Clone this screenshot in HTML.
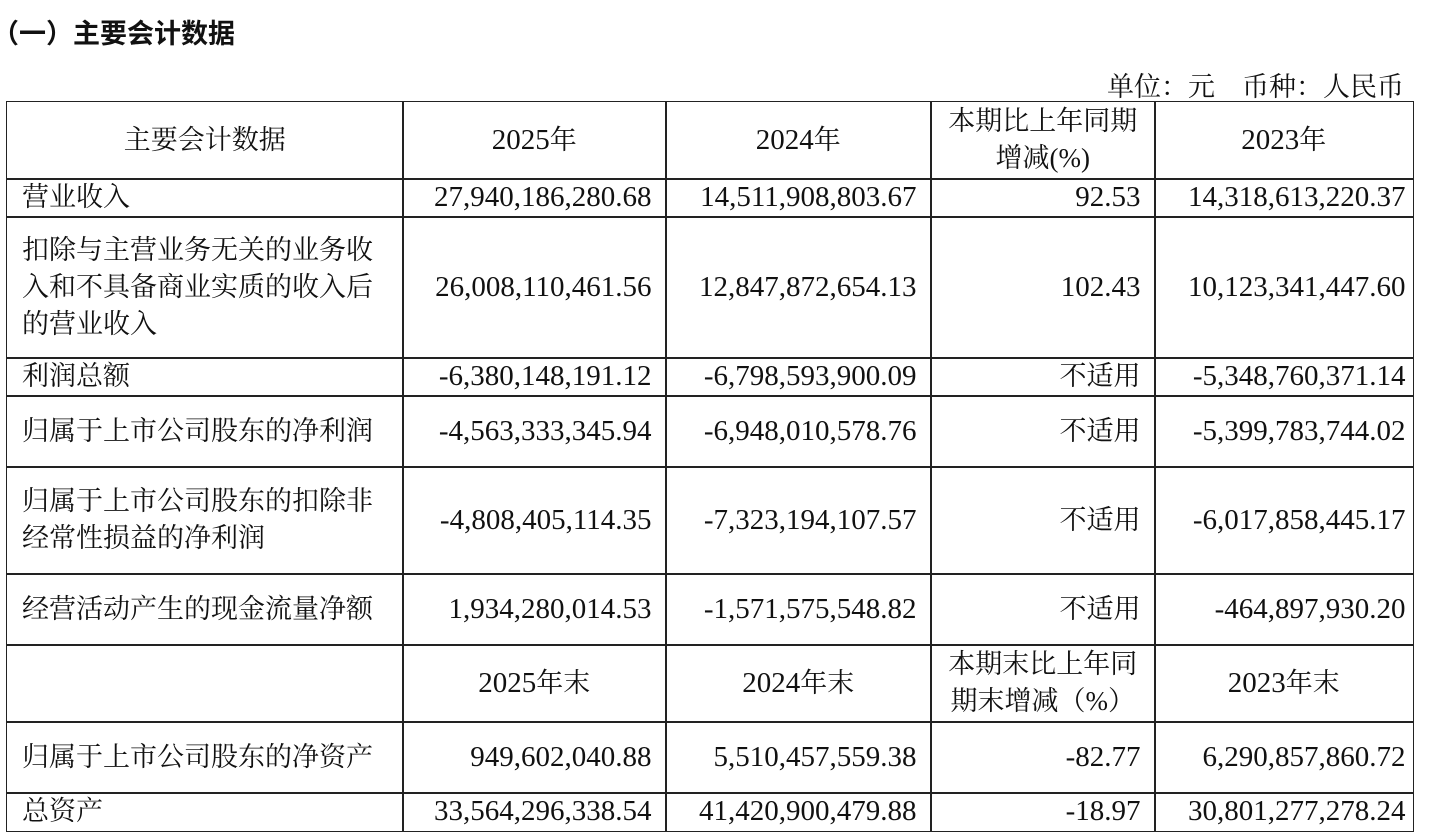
<!DOCTYPE html>
<html><head><meta charset="utf-8"><style>
body{margin:0;width:1430px;height:840px;background:#fff;position:relative;overflow:hidden;font-family:"Liberation Serif","Noto Serif CJK SC",serif;color:#111;}
.c{position:absolute;box-sizing:border-box;border:1.5px solid #222;display:flex;align-items:center;font-size:27px;line-height:37px;padding:0 14px;}
.l{justify-content:flex-start;padding-left:15px;}
.r{justify-content:flex-end;text-align:right;}
.m{justify-content:center;text-align:center;}
.n{font-size:29px;}
</style></head><body>
<div style="position:absolute;left:-8px;top:12px;font-size:27px;font-weight:bold;font-family:'Liberation Sans','Noto Sans CJK SC',sans-serif;">（一）主要会计数据</div>
<div style="position:absolute;right:26px;top:65px;font-size:27px;">单位：元&nbsp;&nbsp;&nbsp;&nbsp;币种：人民币</div>
<div id="t"></div>
<script>
var X=[6,402,665,930,1154,1412];
var Y=[101,178,216,357,395,466,573,644,721,792,830];
var rows=[
["主要会计数据","2025年","2024年","本期比上年同期<br>增减(%)","2023年"],
["营业收入","27,940,186,280.68","14,511,908,803.67","92.53","14,318,613,220.37"],
["扣除与主营业务无关的业务收<br>入和不具备商业实质的收入后<br>的营业收入","26,008,110,461.56","12,847,872,654.13","102.43","10,123,341,447.60"],
["利润总额","-6,380,148,191.12","-6,798,593,900.09","不适用","-5,348,760,371.14"],
["归属于上市公司股东的净利润","-4,563,333,345.94","-6,948,010,578.76","不适用","-5,399,783,744.02"],
["归属于上市公司股东的扣除非<br>经常性损益的净利润","-4,808,405,114.35","-7,323,194,107.57","不适用","-6,017,858,445.17"],
["经营活动产生的现金流量净额","1,934,280,014.53","-1,571,575,548.82","不适用","-464,897,930.20"],
["","2025年末","2024年末","本期末比上年同<br>期末增减（%）","2023年末"],
["归属于上市公司股东的净资产","949,602,040.88","5,510,457,559.38","-82.77","6,290,857,860.72"],
["总资产","33,564,296,338.54","41,420,900,479.88","-18.97","30,801,277,278.24"]];
var h="";
for(var i=0;i<rows.length;i++)for(var j=0;j<5;j++){
var hdr=(i==0||i==7);var cls=j==0?(i==0?"m":"l"):(hdr?"m":"r");
var txt=rows[i][j];
if(j>0 && !hdr && txt!="不适用") cls+=" n";
if(hdr && j>0 && j!=3) txt=txt.replace(/^(\d+)/,'<span class="n">$1</span>');
var pr=(j==4&&!hdr)?'padding-right:7px;':'';
h+='<div class="c '+cls+'" style="'+pr+'left:'+X[j]+'px;top:'+Y[i]+'px;width:'+(X[j+1]-X[j]+1.5)+'px;height:'+(Y[i+1]-Y[i]+1.5)+'px"><span>'+txt+'</span></div>';}
document.getElementById("t").innerHTML=h;
</script>
</body></html>
